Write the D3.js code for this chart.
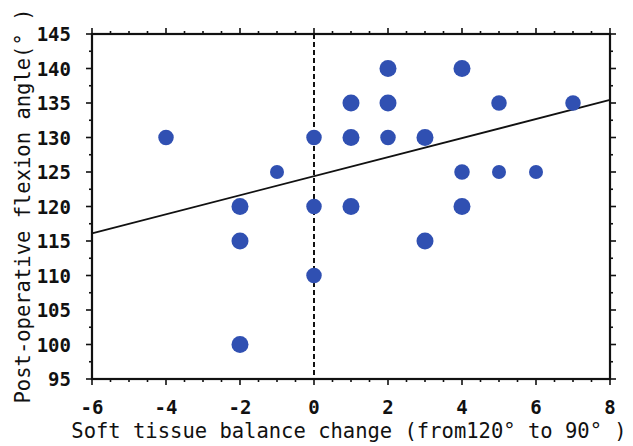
<!DOCTYPE html>
<html lang="en">
<head>
  <meta charset="UTF-8">
  <title>Soft tissue balance vs flexion angle</title>
  <script src="https://d3js.org/d3.v7.min.js"></script>
  <style>
    body { margin: 0; background: #fff; }
    text { font-family: "DejaVu Sans Mono", monospace; fill: #111; }
  </style>
</head>
<body>
  <svg id="chart" width="633" height="446"></svg>
  <script>
    // data
    const balance = [-4, -2, -2, -2, -1, 0, 0, 0, 1, 1, 1, 2, 2, 2, 3, 3, 4, 4, 4, 5, 5, 6, 7];
    const flexion = [130, 120, 115, 100, 125, 130, 120, 110, 135, 130, 120, 140, 135, 130, 130, 115, 140, 125, 120, 135, 125, 125, 135];
    const weight  = [2, 3, 3, 3, 1, 2, 2, 2, 3, 3, 3, 3, 3, 2, 3, 3, 3, 2, 3, 2, 1, 1, 2];
    const xTicks = [-6, -4, -2, 0, 2, 4, 6, 8];
    const yTicks = [95, 100, 105, 110, 115, 120, 125, 130, 135, 140, 145];
    const fit = {intercept: 124.4, slope: 1.38};

    const svg = d3.select('#chart');
    const x = d3.scaleLinear().domain([-6, 8]).range([92, 610]);
    const y = d3.scaleLinear().domain([95, 145]).range([379, 34]);
    const r = d3.scaleLinear().domain([1, 3]).range([7, 8.5]);

    const xMinor = d3.range(-6, 8.01, 0.5);
    const yMinor = d3.range(95, 145.01, 2.5);

    // minor ticks
    const ticks = svg.append('g').attr('stroke', '#111').attr('stroke-width', 1.6);
    xMinor.forEach(v => {
      const len = xTicks.includes(v) ? 6 : 3;
      ticks.append('line').attr('x1', x(v)).attr('x2', x(v)).attr('y1', y(95)).attr('y2', y(95) + len);
      ticks.append('line').attr('x1', x(v)).attr('x2', x(v)).attr('y1', y(145)).attr('y2', y(145) - len);
    });
    yMinor.forEach(v => {
      const len = yTicks.includes(v) ? 6 : 3;
      ticks.append('line').attr('y1', y(v)).attr('y2', y(v)).attr('x1', x(-6)).attr('x2', x(-6) - len);
      ticks.append('line').attr('y1', y(v)).attr('y2', y(v)).attr('x1', x(8)).attr('x2', x(8) + len);
    });

    // frame
    svg.append('rect')
      .attr('x', x(-6)).attr('y', y(145))
      .attr('width', x(8) - x(-6)).attr('height', y(95) - y(145))
      .attr('fill', 'none').attr('stroke', '#111').attr('stroke-width', 2.2);

    // dashed zero line
    svg.append('line')
      .attr('x1', x(0)).attr('x2', x(0)).attr('y1', y(145)).attr('y2', y(95))
      .attr('stroke', '#111').attr('stroke-width', 2).attr('stroke-dasharray', '5,3');

    // regression line
    svg.append('line')
      .attr('x1', x(-6)).attr('y1', y(fit.intercept + fit.slope * -6))
      .attr('x2', x(8)).attr('y2', y(fit.intercept + fit.slope * 8))
      .attr('stroke', '#111').attr('stroke-width', 1.8);

    // points
    svg.append('g').selectAll('circle')
      .data(balance.map((b, i) => ({b, f: flexion[i], w: weight[i]})))
      .enter().append('circle')
      .attr('cx', d => x(d.b))
      .attr('cy', d => y(d.f))
      .attr('r', d => r(d.w))
      .attr('fill', '#3050b2');

    // tick labels
    svg.append('g').selectAll('text').data(xTicks).enter().append('text')
      .attr('x', d => x(d)).attr('y', 414)
      .attr('text-anchor', 'middle')
      .attr('font-size', 19).attr('font-weight', 'bold')
      .text(d => d);

    svg.append('g').selectAll('text').data(yTicks).enter().append('text')
      .attr('x', 71).attr('y', d => y(d) + 7)
      .attr('text-anchor', 'end')
      .attr('font-size', 19).attr('font-weight', 'bold')
      .text(d => d);

    // axis titles
    svg.append('text')
      .attr('x', 349).attr('y', 438)
      .attr('text-anchor', 'middle')
      .attr('font-size', 20.5)
      .text('Soft tissue balance change (from120° to 90° )');

    svg.append('text')
      .attr('transform', 'translate(30,206) rotate(-90)')
      .attr('text-anchor', 'middle')
      .attr('font-size', 20.5)
      .text('Post-operative flexion angle(° )');
  </script>
</body>
</html>
